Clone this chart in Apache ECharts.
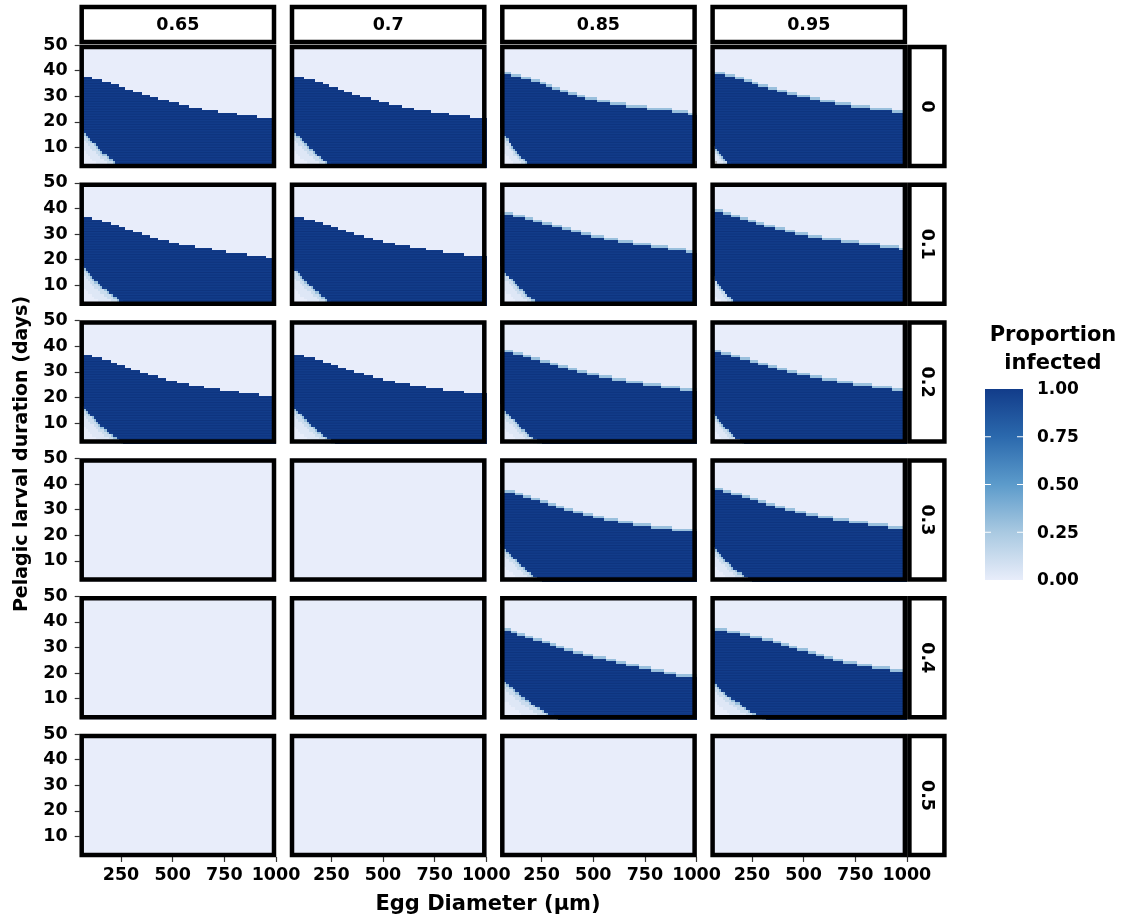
<!DOCTYPE html>
<html><head><meta charset="utf-8">
<script src="https://cdn.jsdelivr.net/npm/echarts@6/dist/echarts.min.js"></script>
<style>html,body{margin:0;padding:0;background:#fff}#c{width:1125px;height:923px}</style>
</head><body><div id="c"></div><script>
// ---------- data ----------
const colLabels = ['0.65', '0.7', '0.85', '0.95'];
const rowLabels = ['0', '0.1', '0.2', '0.3', '0.4', '0.5'];
const xTicks = [250, 500, 750, 1000];
const yTicks = [10, 20, 30, 40, 50];
const legendTicks = [0, 0.25, 0.5, 0.75, 1];
const colorStops = ['#e8edfa', '#a9c9e1', '#5c9bcb', '#2b69ad', '#123c8a'];

// PLD (days) of the top of the infected band at egg diameter 50 (0 = no band)
const bandStart = [
  [38, 38, 39, 39],
  [37, 37, 38, 39],
  [37, 37, 38, 38],
  [0, 0, 37, 38],
  [0, 0, 37, 37],
  [0, 0, 0, 0]
];
// egg diameters where the top of the band steps down by one day
const dropsRow0 = [
  [110,160,200,235,270,305,345,385,430,475,525,580,640,720,810,910],
  [115,165,205,240,275,310,350,390,435,480,530,585,650,730,820,920],
  [100,150,195,235,265,300,335,375,415,460,515,580,660,760,880,960],
  [120,170,210,245,280,330,370,415,470,525,580,650,730,820,930]
];
const dropsRow1 = [
  [114,158,197,235,269,308,347,386,434,482,531,608,690,763,855,950],
  [120,165,205,245,280,320,360,405,450,500,555,625,705,790,890],
  [110,165,210,250,300,345,390,435,490,545,620,690,780,860,950],
  [105,145,185,225,265,310,355,405,455,520,590,680,770,870,960]
];
const dropsRow2 = [
  [110,155,195,230,265,300,340,380,425,470,520,580,650,730,820,920],
  [118,165,205,245,280,320,360,405,450,500,555,625,705,790,890],
  [105,155,200,240,285,330,375,420,470,525,590,660,740,830,920],
  [100,145,190,235,280,325,370,420,470,525,590,660,740,830,930]
];
const dropsRow3 = [
  [], [],
  [115,160,200,240,275,315,355,400,445,495,550,615,690,780,880],
  [105,150,195,235,275,320,360,405,455,505,565,635,715,805,910]
];
const dropsRow4 = [
  [], [],
  [100,129,169,210,250,291,323,363,403,451,500,556,613,661,718,782,838,896],
  [130,192,240,297,346,386,426,467,515,556,596,644,693,757,830,919]
];
const dropsRow5 = [[], [], [], []];
// proportion infected in the cell just above the band edge (soft edge)
const softEdge = [0, 0, 0.3, 0.3];
// low-PLD / small-egg wedge: PLD where it meets diameter 50, diameter where it meets PLD 2
const wedgeTop = [
  [19.5, 19.5, 18.8, 13.5],
  [19.7, 19.5, 18.5, 15.8],
  [19.5, 19.5, 18.5, 16.5],
  [0, 0, 18, 17.5],
  [0, 0, 19.5, 18],
  [0, 0, 0, 0]
];
const wedgeEnd = [
  [270, 283, 215, 170],
  [297, 287, 265, 200],
  [275, 280, 258, 218],
  [0, 0, 265, 265],
  [0, 0, 350, 333],
  [0, 0, 0, 0]
];
// NA corner (grey) fraction of wedge
const naCut = [
  [0, 0, 0, 0.6],
  [0, 0, 0, 0],
  [0, 0, 0, 0],
  [0, 0, 0, 0],
  [0, 0, 0, 0],
  [0, 0, 0, 0]
];
// proportion infected inside the wedge, from corner to its edge
const wedgeCut = [0.6, 0.84, 0.95];
const wedgeShade = [0.0, 0.04, 0.12, 0.3];
const wedgeBend = 0.85;
const dropsByRow = [dropsRow0, dropsRow1, dropsRow2, dropsRow3, dropsRow4, dropsRow5];

// ---------- layout ----------
const X0 = 79.7, DX = 210.3, W = 196.3;
const Y0 = 45, DY = 137.8, H = 123;
const xStep = 10;
const FONT = 'DejaVu Sans';

function shadeOf(u) {
  for (let k = 0; k < wedgeCut.length; k++) if (u < wedgeCut[k]) return wedgeShade[k];
  return wedgeShade[wedgeShade.length - 1];
}

function buildCells(r, c) {
  const cells = [];
  const start = bandStart[r][c];
  const drops = dropsByRow[r][c];
  const wt = wedgeTop[r][c], we = wedgeEnd[r][c];
  for (let x0 = 50; x0 < 1000; x0 += xStep) {
    const x1 = x0 + xStep, xc = (x0 + x1) / 2;
    const level = start ? start - drops.filter(d => d < xc).length : 0;
    let runStart = 2, runVal = null, runNA = 0;
    for (let j = 2; j <= 50; j++) {
      let v = 0, na = 0;
      if (j < 50) {
        const yc = j + 0.5;
        if (start) {
          if (j + 1 <= level) v = 1;
          else if (j === level && softEdge[c] > 0) v = softEdge[c];
          if (v === 1 && wt && xc < we && yc < wt) {
            const u = Math.pow((xc - 50) / (we - 50), wedgeBend) + Math.pow((yc - 2) / (wt - 2), wedgeBend);
            if (u < 1) { v = shadeOf(u); if (u < naCut[r][c]) na = 1; }
          }
        }
      }
      if (runVal === null) { runVal = v; runNA = na; runStart = j; continue; }
      if (j === 50 || v !== runVal || na !== runNA) {
        cells.push([x0, x1, runStart, j, runVal, runNA]);
        runVal = v; runNA = na; runStart = j;
      }
    }
  }
  return cells;
}

function renderItem(params, api) {
  const cs = params.coordSys;
  const y0v = api.value(2), y1v = api.value(3);
  const p0 = api.coord([api.value(0), y1v]);
  const p1 = api.coord([api.value(1), y0v]);
  const gx0 = Math.floor(cs.x), gx1 = Math.ceil(cs.x + cs.width);
  const gy0 = Math.floor(cs.y), gy1 = Math.ceil(cs.y + cs.height);
  const xa = Math.max(gx0, Math.round(p0[0])), xb = Math.min(gx1, Math.round(p1[0]) + 1);
  const ya = Math.max(gy0, Math.round(p0[1])), yb = Math.min(gy1, Math.round(p1[1]) + 1);
  const rect = {
    type: 'rect',
    shape: { x: xa, y: ya, width: xb - xa, height: yb - ya },
    style: { fill: api.value(5) ? '#b3b3b3' : api.visual('color') }
  };
  if (api.value(4) !== 1) return rect;
  // faint raster seams between day rows inside the infected band
  const children = [rect];
  for (let d = y0v + 1; d < y1v; d++) {
    const yy = api.coord([0, d])[1];
    children.push({ type: 'line', shape: { x1: xa, y1: yy, x2: xb, y2: yy },
      style: { stroke: 'rgba(5,25,80,0.35)', lineWidth: 0.6 } });
  }
  return { type: 'group', children: children };
}

const grids = [], xAxes = [], yAxes = [], series = [], graphics = [];
let idx = 0;
for (let r = 0; r < 6; r++) {
  for (let c = 0; c < 4; c++) {
    const left = X0 + c * DX, top = Y0 + r * DY;
    grids.push({ left: left, top: top, width: W, height: H, containLabel: false });
    xAxes.push({
      type: 'value', gridIndex: idx, min: 50, max: 1000,
      axisLine: { show: false }, splitLine: { show: false },
      axisTick: { show: r === 5, customValues: xTicks, length: 5, lineStyle: { color: '#333', width: 1.2 } },
      axisLabel: { show: r === 5, customValues: xTicks, formatter: v => String(v), margin: 9, color: '#000',
        fontFamily: FONT, fontWeight: 'bold', fontSize: 17.5 }
    });
    yAxes.push({
      type: 'value', gridIndex: idx, min: 2, max: 50,
      axisLine: { show: false }, splitLine: { show: false },
      axisTick: { show: c === 0, customValues: yTicks, length: 5, lineStyle: { color: '#333', width: 1.2 } },
      axisLabel: { show: c === 0, customValues: yTicks, formatter: v => String(v), margin: 12, color: '#000',
        fontFamily: FONT, fontWeight: 'bold', fontSize: 17.5 }
    });
    series.push({
      type: 'custom', xAxisIndex: idx, yAxisIndex: idx,
      encode: { x: [0, 1], y: [2, 3] },
      data: buildCells(r, c),
      silent: true, animation: false,
      renderItem: renderItem
    });
    graphics.push({
      type: 'rect', z: 100,
      shape: { x: left + 2, y: top + 2, width: W - 4, height: H - 4 },
      style: { fill: null, stroke: '#000', lineWidth: 4.5 }
    });
    idx++;
  }
}
// top strips
for (let c = 0; c < 4; c++) {
  const left = X0 + c * DX;
  graphics.push({ type: 'rect', z: 100, shape: { x: left + 2, y: 7, width: W - 4, height: 35 },
    style: { fill: '#fff', stroke: '#000', lineWidth: 4.5 } });
  graphics.push({ type: 'text', z: 101, x: left + W / 2, y: 25.5,
    style: { text: colLabels[c], fill: '#000', font: 'bold 17.5px "' + FONT + '"', align: 'center', verticalAlign: 'middle' } });
}
// right strips
for (let r = 0; r < 6; r++) {
  const top = Y0 + r * DY;
  const sx = X0 + 3 * DX + W + 2.5;
  graphics.push({ type: 'rect', z: 99, shape: { x: sx, y: top + 2, width: 35, height: H - 4 },
    style: { fill: '#fff', stroke: '#000', lineWidth: 4.5 } });
  graphics.push({ type: 'text', z: 101, x: sx + 17.5, y: top + H / 2, rotation: -Math.PI / 2,
    style: { text: rowLabels[r], fill: '#000', font: 'bold 17.5px "' + FONT + '"', align: 'center', verticalAlign: 'middle' } });
}
// axis titles
graphics.push({ type: 'text', z: 101, x: 22, y: 454, rotation: Math.PI / 2,
  style: { text: 'Pelagic larval duration (days)', fill: '#000', font: 'bold 19px "' + FONT + '"', align: 'center', verticalAlign: 'middle' } });
graphics.push({ type: 'text', z: 101, x: 488, y: 905,
  style: { text: 'Egg Diameter (\u03bcm)', fill: '#000', font: 'bold 21px "' + FONT + '"', align: 'center', verticalAlign: 'middle' } });
// legend
const LB = { x: 985, y: 389, w: 38, h: 191 };
graphics.push({ type: 'text', z: 101, x: 1053, y: 336,
  style: { text: 'Proportion', fill: '#000', font: 'bold 21px "' + FONT + '"', align: 'center', verticalAlign: 'middle' } });
graphics.push({ type: 'text', z: 101, x: 1053, y: 364,
  style: { text: 'infected', fill: '#000', font: 'bold 21px "' + FONT + '"', align: 'center', verticalAlign: 'middle' } });
graphics.push({ type: 'rect', z: 100, shape: { x: LB.x, y: LB.y, width: LB.w, height: LB.h },
  style: { fill: { type: 'linear', x: 0, y: 1, x2: 0, y2: 0,
    colorStops: colorStops.map((col, i) => ({ offset: i / (colorStops.length - 1), color: col })) } } });
legendTicks.forEach(v => {
  const yy = LB.y + LB.h - v * LB.h;
  if (v > 0 && v < 1) {
    graphics.push({ type: 'line', z: 101, shape: { x1: LB.x, y1: yy, x2: LB.x + 6, y2: yy }, style: { stroke: '#fff', lineWidth: 1 } });
    graphics.push({ type: 'line', z: 101, shape: { x1: LB.x + LB.w - 6, y1: yy, x2: LB.x + LB.w, y2: yy }, style: { stroke: '#fff', lineWidth: 1 } });
  }
  graphics.push({ type: 'text', z: 101, x: 1037, y: yy + 1,
    style: { text: v.toFixed(2), fill: '#000', font: 'bold 17px "' + FONT + '"', align: 'left', verticalAlign: 'middle' } });
});

const chart = echarts.init(document.getElementById('c'), null, { renderer: 'canvas' });
chart.setOption({
  animation: false,
  backgroundColor: '#fff',
  grid: grids, xAxis: xAxes, yAxis: yAxes, series: series,
  visualMap: { show: false, type: 'continuous', min: 0, max: 1, dimension: 4,
    seriesIndex: series.map((s, i) => i), inRange: { color: colorStops } },
  graphic: { elements: graphics }
});
</script></body></html>
